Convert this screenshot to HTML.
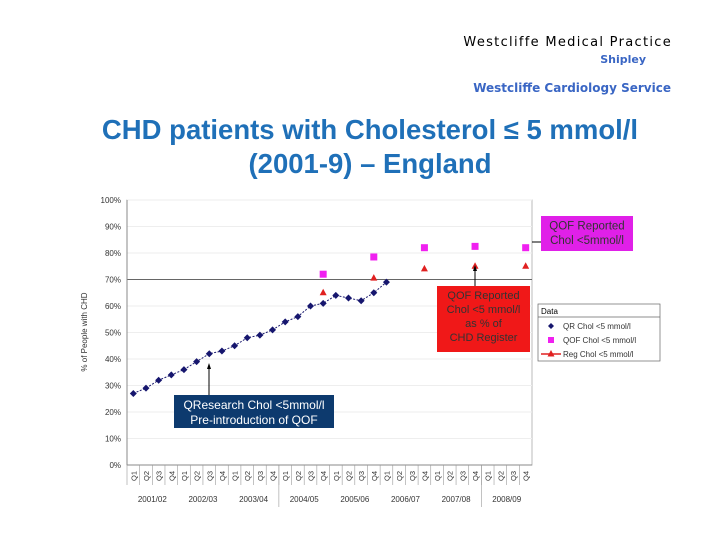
<!DOCTYPE html>
<html><head><meta charset="utf-8"><style>
body{margin:0;background:#fff;width:720px;height:540px;overflow:hidden;font-family:"Liberation Sans",sans-serif}
.hdr{position:absolute;right:49px;text-align:right;font-family:"DejaVu Sans",sans-serif;white-space:nowrap}
</style></head><body>
<div class="hdr" style="top:35px;font-size:13px;color:#000;letter-spacing:1.3px;margin-right:-1px">Westcliffe Medical Practice</div>
<div class="hdr" style="top:53px;right:74px;font-size:11px;color:#3a66c4;font-weight:bold">Shipley</div>
<div class="hdr" style="top:81px;font-size:12px;color:#3a66c4;font-weight:bold">Westcliffe Cardiology Service</div>
<div style="position:absolute;left:60px;top:113px;width:620px;text-align:center;color:#1f70b8;font-weight:bold;font-size:27.5px;line-height:34px">CHD patients with Cholesterol ≤ 5 mmol/l<br>(2001-9) – England</div>
<svg id="chart" width="720" height="540" style="position:absolute;left:0;top:0" xmlns="http://www.w3.org/2000/svg" font-family="Liberation Sans, sans-serif"></svg>
<script>
const years=["2001/02","2002/03","2003/04","2004/05","2005/06","2006/07","2007/08","2008/09"];
const quarters=["Q1","Q2","Q3","Q4"];
const yTicks=[0,10,20,30,40,50,60,70,80,90,100];
const qrIdx=[0,1,2,3,4,5,6,7,8,9,10,11,12,13,14,15,16,17,18,19,20];
const qrVals=[27,29,32,34,36,39,42,43,45,48,49,51,54,56,60,61,64,63,62,65,69];
const qofIdx=[15,19,23,27,31];
const qofVals=[72,78.5,82,82.5,82];
const regIdx=[15,19,23,27,31];
const regVals=[65,70.5,74,75,75];
const svg=document.getElementById('chart');
const NS="http://www.w3.org/2000/svg";
const X0=127,X1=532,Y0=465,Y1=200,N=years.length*4,cw=(X1-X0)/N;
const xs=i=>X0+cw*(i+0.5);
const ys=v=>Y0-(v/100)*(Y0-Y1);
function mk(t,a,p){const e=document.createElementNS(NS,t);for(const k in a)e.setAttribute(k,a[k]);(p||svg).appendChild(e);return e;}
let f=mk('rect',{x:X0,y:Y1,width:X1-X0,height:Y0-Y1,fill:'none',stroke:'#bbb'});


yTicks.forEach(v=>{
 const g=mk('line',{x1:X0,x2:X1,y1:ys(v),y2:ys(v),stroke:v==70?'#666':'#eee','stroke-width':1});
 
 
 const t=mk('text',{x:X0-6,y:ys(v)+3,'text-anchor':'end','font-size':8,fill:'#333'});
 t.textContent=v+'%';
 
 
});
mk('line',{x1:X0,x2:X0,y1:Y1,y2:Y0,stroke:'#888'});
mk('line',{x1:X0,x2:X1,y1:Y0,y2:Y0,stroke:'#888'});
const yt=mk('text',{x:0,y:0,transform:'translate(87,332) rotate(-90)','text-anchor':'middle','font-size':8,fill:'#333'});
yt.textContent='% of People with CHD';


for(let i=0;i<N;i++){
 const t=mk('text',{x:0,y:0,transform:`translate(${xs(i)+3},${Y0+6}) rotate(-90)`,'text-anchor':'end','font-size':7.5,fill:'#333'});
 t.textContent=quarters[i%4];
 
 
 mk('line',{x1:X0+cw*i,x2:X0+cw*i,y1:Y0,y2:Y0+20,stroke:'#999','stroke-width':0.6});
}
[12,28].forEach(i=>mk('line',{x1:X0+cw*i,x2:X0+cw*i,y1:Y0,y2:Y0+42,stroke:'#999','stroke-width':0.6}));
years.forEach((y,k)=>{
 const t=mk('text',{x:X0+cw*(k*4+2),y:Y0+37,'text-anchor':'middle','font-size':8,fill:'#333'});
 t.textContent=y;
 
 
});
const pl=mk('polyline',{points:qrIdx.map((i,k)=>xs(i)+','+ys(qrVals[k])).join(' '),fill:'none',stroke:'#1a1a6e','stroke-width':1,'stroke-dasharray':'2,1.5'});


qrIdx.forEach((i,k)=>{const x=xs(i),y=ys(qrVals[k]);
 const p=mk('polygon',{points:`${x},${y-3.5} ${x+3.5},${y} ${x},${y+3.5} ${x-3.5},${y}`,fill:'#16166e'});
 
 });
qofIdx.forEach((i,k)=>{const x=xs(i),y=ys(qofVals[k]);
 const p=mk('rect',{x:x-3.5,y:y-3.5,width:7,height:7,fill:'#f020f0'});
 
 });
regIdx.forEach((i,k)=>{const x=xs(i),y=ys(regVals[k]);
 const p=mk('polygon',{points:`${x},${y-4} ${x+3.5},${y+2.5} ${x-3.5},${y+2.5}`,fill:'#e02020'});
 
 });
function box(x,y,w,h,fill,lines,color,name,fs){
 const g=mk('g',{});
 
 
 mk('rect',{x,y,width:w,height:h,fill},g);
 lines.forEach((l,k)=>{const t=mk('text',{x:x+w/2,y:y+fs+2+k*(fs+3),'text-anchor':'middle','font-size':fs,fill:color},g);t.textContent=l;});
}
mk('line',{x1:209,x2:209,y1:395,y2:366,stroke:'#000'});
mk('polygon',{points:'209,363 207,369 211,369',fill:'#000'});
box(174,395,160,33,'#0d3a6e',['QResearch Chol <5mmol/l','Pre-introduction of QOF'],'#fff','qresearch-annotation',12);
mk('line',{x1:475,x2:475,y1:287,y2:268,stroke:'#000'});
mk('polygon',{points:'475,265 473,271 477,271',fill:'#000'});
box(437,286,93,66,'#f01818',['QOF Reported','Chol <5 mmol/l','as % of','CHD Register'],'#333','qof-register-annotation',11);
mk('line',{x1:542,x2:532,y1:242,y2:242,stroke:'#000'});
box(541,216,92,35,'#e020e8',['QOF Reported','Chol <5mmol/l'],'#333','qof-reported-annotation',11.5);
const lg=mk('g',{});


mk('rect',{x:538,y:304,width:122,height:57,fill:'#fff',stroke:'#666','stroke-width':0.7},lg);
mk('line',{x1:538,x2:660,y1:317,y2:317,stroke:'#666','stroke-width':0.7},lg);
let t=mk('text',{x:541,y:314,'font-size':8,fill:'#000'},lg);t.textContent='Data';
[['QR Chol <5 mmol/l','d'],['QOF Chol <5 mmol/l','s'],['Reg Chol <5 mmol/l','t']].forEach((e,k)=>{
 const y=326+k*14,x=551;
 if(e[1]=='d')mk('polygon',{points:`${x},${y-3} ${x+3},${y} ${x},${y+3} ${x-3},${y}`,fill:'#16166e'},lg);
 if(e[1]=='s')mk('rect',{x:x-3,y:y-3,width:6,height:6,fill:'#f020f0'},lg);
 if(e[1]=='t'){mk('line',{x1:541,x2:561,y1:y,y2:y,stroke:'#e02020','stroke-width':1.5},lg);mk('polygon',{points:`${x},${y-4} ${x+3.5},${y+2.5} ${x-3.5},${y+2.5}`,fill:'#e02020'},lg);}
 const tt=mk('text',{x:563,y:y+3,'font-size':8,fill:'#333'},lg);tt.textContent=e[0];
 
 
});
</script>
</body></html>
